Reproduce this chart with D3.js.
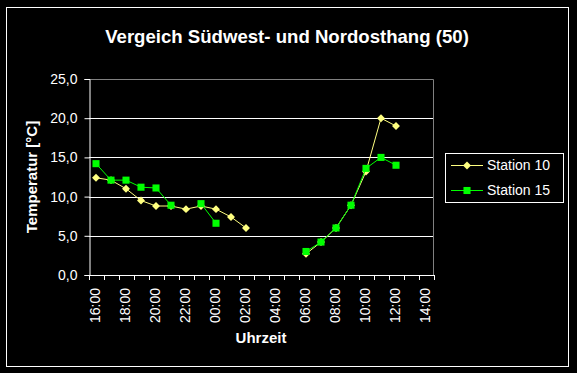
<!DOCTYPE html>
<html>
<head>
<meta charset="utf-8">
<script src="https://cdn.jsdelivr.net/npm/d3@7"></script>
<style>
  html, body { margin: 0; padding: 0; background: #000; }
  svg { display: block; font-family: "Liberation Sans", Arial, sans-serif; }
</style>
</head>
<body>
<svg id="chart"></svg>
<script>
const width = 577;
const height = 373;

// Data
const hours = ["16:00", "17:00", "18:00", "19:00", "20:00", "21:00", "22:00", "23:00",
  "00:00", "01:00", "02:00", "03:00", "04:00", "05:00", "06:00", "07:00", "08:00",
  "09:00", "10:00", "11:00", "12:00", "13:00", "14:00"];
const station10 = [12.4, 12.1, 11.0, 9.5, 8.8, 8.8, 8.4, 8.8, 8.4, 7.4, 6.0,
  null, null, null, 2.7, 4.2, 6.0, 8.9, 13.2, 20.0, 19.0, null, null];
const station15 = [14.2, 12.1, 12.1, 11.2, 11.1, 8.9, null, 9.1, 6.6, null, null,
  null, null, null, 3.0, 4.2, 6.0, 8.9, 13.6, 15.0, 14.0, null, null];
const yTicks = [0, 5, 10, 15, 20, 25];
const seriesNames = ["Station 10", "Station 15"];

const series = [
  { name: seriesNames[0], values: station10, color: "#ffff80", marker: d3.symbolDiamond2, size: 40 },
  { name: seriesNames[1], values: station15, color: "#00ff00", marker: d3.symbolSquare, size: 50 }
];

const svg = d3.select("#chart")
  .attr("width", width)
  .attr("height", height);

// Outer frame
svg.append("rect")
  .attr("x", 6.5).attr("y", 7.5)
  .attr("width", 562).attr("height", 359)
  .attr("fill", "none").attr("stroke", "#fff");

// Scales
const x = d3.scalePoint().domain(hours).range([88.5, 433.5]).padding(0.5);
const y = d3.scaleLinear().domain([0, 25]).range([275, 79]);
const step = x.step();

// Gridlines
svg.append("g")
  .selectAll("line")
  .data(yTicks.slice(1, -1))
  .join("line")
  .attr("x1", 89).attr("x2", 433)
  .attr("y1", d => Math.round(y(d)) + 0.5).attr("y2", d => Math.round(y(d)) + 0.5)
  .attr("stroke", "#fff");

// Plot border top / right (grey)
svg.append("path")
  .attr("d", `M89,${Math.round(y(25)) + 0.5}H433.5V275`)
  .attr("fill", "none").attr("stroke", "#808080");

// Y axis
const yAxis = svg.append("g")
  .attr("transform", "translate(89.5,0)")
  .call(d3.axisLeft(y).tickValues(yTicks).tickSize(5).tickPadding(7)
    .tickFormat(d => d3.format(".1f")(d).replace(".", ",")));
yAxis.select(".domain").attr("stroke", "#fff");
yAxis.selectAll(".tick line").attr("stroke", "#fff");
yAxis.selectAll(".tick text")
  .attr("fill", "#fff").attr("font-size", 14).attr("font-family", "Liberation Sans, Arial, sans-serif");

// X axis line + ticks at category boundaries
svg.append("line")
  .attr("x1", 89).attr("x2", 434)
  .attr("y1", 275.5).attr("y2", 275.5)
  .attr("stroke", "#fff");
svg.append("g")
  .selectAll("line")
  .data(d3.range(hours.length + 1))
  .join("line")
  .attr("x1", i => Math.round(x(hours[0]) - step / 2 + i * step) + 0.5)
  .attr("x2", i => Math.round(x(hours[0]) - step / 2 + i * step) + 0.5)
  .attr("y1", 275).attr("y2", 280)
  .attr("stroke", "#fff");

// X tick labels, every second hour, rotated
svg.append("g")
  .selectAll("text")
  .data(hours.filter((d, i) => i % 2 === 0))
  .join("text")
  .attr("transform", d => `translate(${x(d) - 1},288) rotate(-90)`)
  .attr("text-anchor", "end")
  .attr("dy", "0.35em")
  .attr("fill", "#fff")
  .attr("font-size", 14)
  .text(d => d);

// Lines and markers
series.forEach(s => {
  const line = d3.line()
    .defined(d => d != null)
    .x((d, i) => x(hours[i]))
    .y(d => y(d));

  svg.append("path")
    .datum(s.values)
    .attr("d", line)
    .attr("fill", "none")
    .attr("stroke", s.color)
    .attr("stroke-width", 1);

  svg.append("g")
    .selectAll("path")
    .data(s.values.map((v, i) => ({ v, i })).filter(d => d.v != null))
    .join("path")
    .attr("d", d3.symbol().type(s.marker).size(s.size))
    .attr("transform", d => `translate(${x(hours[d.i])},${y(d.v)})`)
    .attr("fill", s.color);
});

// Titles
svg.append("text")
  .attr("x", 287).attr("y", 43)
  .attr("text-anchor", "middle")
  .attr("fill", "#fff").attr("font-size", 18.6).attr("font-weight", "bold")
  .text("Vergeich Südwest- und Nordosthang (50)");

svg.append("text")
  .attr("transform", "translate(37,177) rotate(-90)")
  .attr("text-anchor", "middle")
  .attr("fill", "#fff").attr("font-size", 15).attr("font-weight", "bold")
  .text("Temperatur [°C]");

svg.append("text")
  .attr("x", 261).attr("y", 343)
  .attr("text-anchor", "middle")
  .attr("fill", "#fff").attr("font-size", 15).attr("font-weight", "bold")
  .text("Uhrzeit");

// Legend
const legend = svg.append("g");
legend.append("rect")
  .attr("x", 445.5).attr("y", 153.5)
  .attr("width", 118).attr("height", 49)
  .attr("fill", "none").attr("stroke", "#fff");

const rows = legend.selectAll("g.row")
  .data(series)
  .join("g")
  .attr("class", "row")
  .attr("transform", (d, i) => `translate(0,${165 + i * 25})`);
rows.append("line")
  .attr("x1", 451).attr("x2", 483)
  .attr("y1", 0.5).attr("y2", 0.5)
  .attr("stroke", d => d.color).attr("stroke-width", 1);
rows.append("path")
  .attr("d", d => d3.symbol().type(d.marker).size(d.size)())
  .attr("transform", "translate(467,0.5)")
  .attr("fill", d => d.color);
rows.append("text")
  .attr("x", 487).attr("dy", "0.35em")
  .attr("fill", "#fff").attr("font-size", 14)
  .text(d => d.name);
</script>
</body>
</html>
